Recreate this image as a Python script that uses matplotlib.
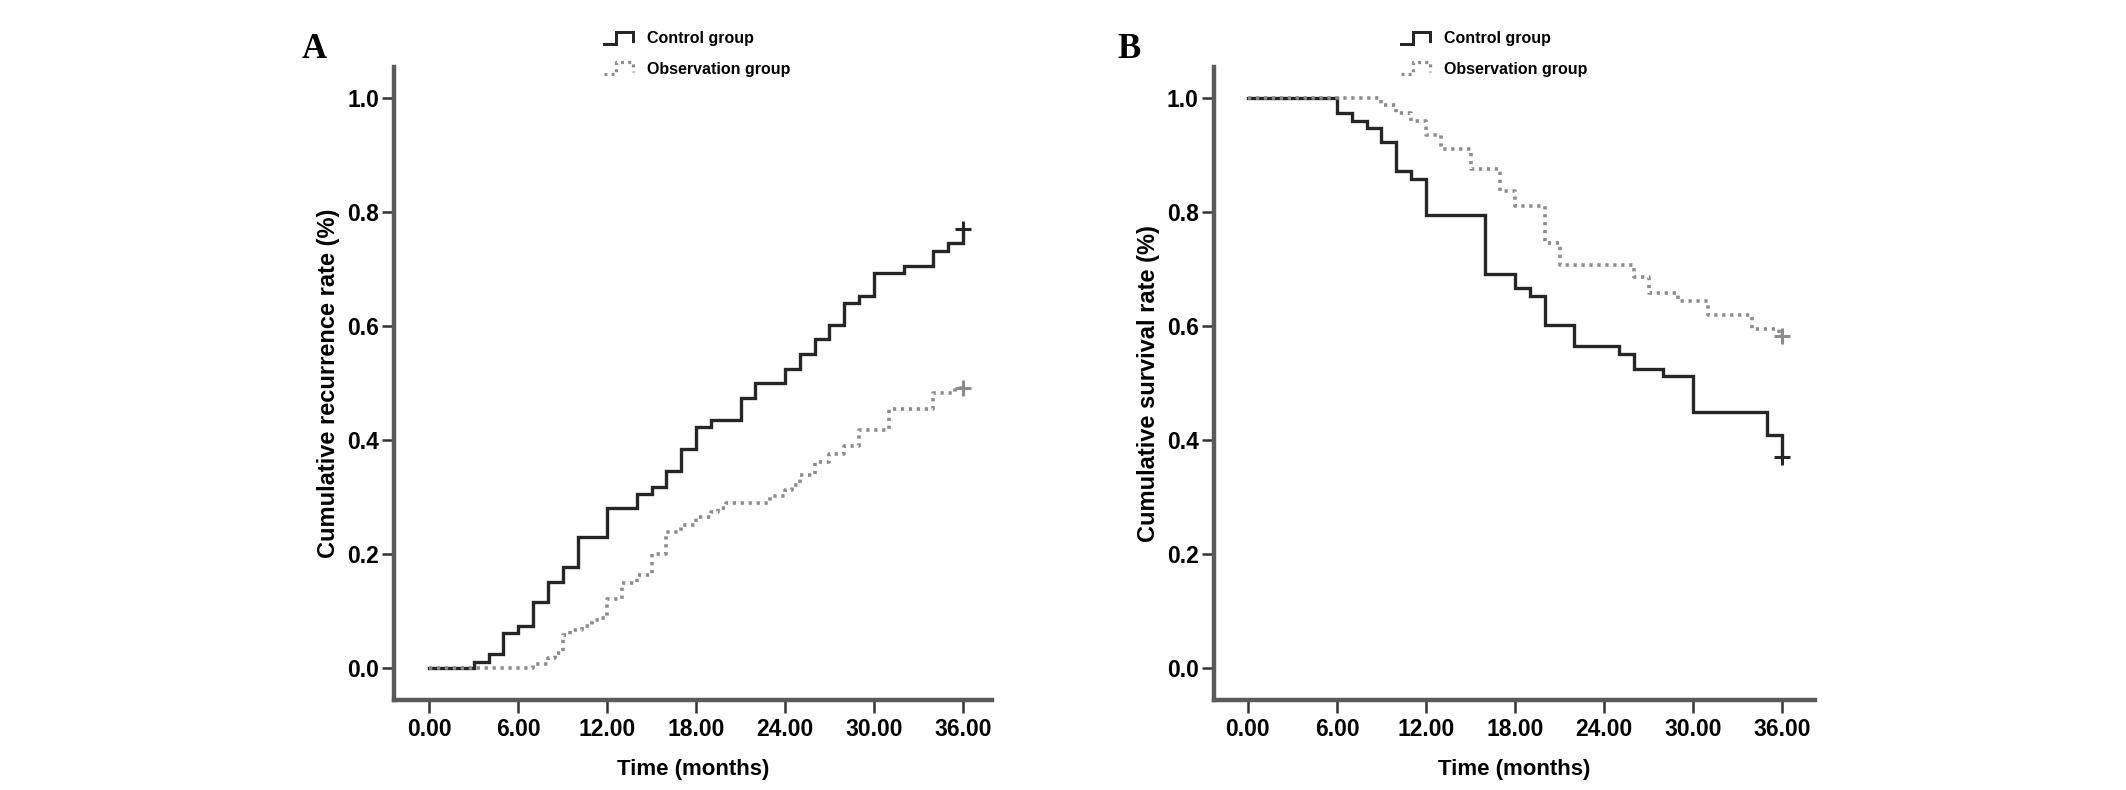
import numpy as np
import matplotlib
matplotlib.use("Agg")
import matplotlib.pyplot as plt
from matplotlib.lines import Line2D
from matplotlib.legend_handler import HandlerBase
from matplotlib.ticker import FormatStrFormatter

# ----- data (months, cumulative rate) -----

ctrl_a_t = [0, 3, 4, 5, 6, 7, 8, 9, 10, 12, 14, 15, 16, 17, 18, 19, 21, 22, 24, 25, 26, 27, 28, 29, 30, 32, 34, 35, 36]
ctrl_a_v = [0, 0.011, 0.025, 0.061, 0.074, 0.115, 0.151, 0.177, 0.229, 0.281, 0.305, 0.318, 0.346, 0.384, 0.422,
            0.435, 0.473, 0.500, 0.524, 0.551, 0.577, 0.602, 0.640, 0.653, 0.692, 0.705, 0.732, 0.745, 0.770]

obs_a_t = [0, 7, 8, 8.5, 9, 9.5, 10.3, 11, 11.5, 12, 13, 14, 15, 16, 17, 18, 19, 19.5, 20, 23, 24, 24.5, 25,
           26, 27, 28, 29, 31, 34, 35.5]
obs_a_v = [0, 0.008, 0.017, 0.026, 0.058, 0.067, 0.074, 0.084, 0.087, 0.122, 0.150, 0.163, 0.200, 0.239, 0.251,
           0.265, 0.274, 0.280, 0.290, 0.302, 0.312, 0.321, 0.338, 0.362, 0.375, 0.389, 0.417, 0.454, 0.482, 0.491]

ctrl_b_t = [0, 6, 7, 8, 9, 10, 11, 12, 16, 18, 19, 20, 22, 25, 26, 28, 30, 35, 36]
ctrl_b_v = [1.0, 0.973, 0.960, 0.947, 0.922, 0.872, 0.858, 0.794, 0.691, 0.666, 0.653, 0.602, 0.564, 0.551,
            0.525, 0.512, 0.449, 0.409, 0.371]

obs_b_t = [0, 9, 10, 11, 12, 13, 15, 17, 18, 20, 21, 26, 27, 29, 31, 34, 35.8]
obs_b_v = [1.0, 0.987, 0.973, 0.960, 0.935, 0.910, 0.875, 0.836, 0.810, 0.745, 0.707, 0.686, 0.657, 0.644,
           0.619, 0.595, 0.583]

censor_time = 36
group_labels = ["Control group", "Observation group"]
x_ticks = [0, 6, 12, 18, 24, 30, 36]
y_ticks = [0.0, 0.2, 0.4, 0.6, 0.8, 1.0]

# ----- styles -----

SANS = "Liberation Sans"
SERIF = "Liberation Serif"
CTRL_STYLE = dict(color="#262626", lw=2.4, linestyle="-")
OBS_STYLE = dict(color="#8c8c8c", lw=2.6, linestyle=(0, (0.9, 1.3)))
SPINE_COLOR = "#5a5a5a"


class StepHandler(HandlerBase):
    # little step icon like the SPSS legend
    def create_artists(self, legend, orig_handle, xdescent, ydescent, width, height, fontsize, trans):
        xs = np.array([0, 0.42, 0.42, 1.0, 1.0]) * width - xdescent
        ys = np.array([0.1, 0.1, 0.95, 0.95, 0.3]) * height - ydescent
        line = Line2D(xs, ys)
        line.update_from(orig_handle)
        line.set_marker("")
        line.set_linewidth(orig_handle.get_linewidth() * 0.9)
        line.set_clip_on(False)
        line.set_clip_box(None)
        line.set_transform(trans)
        return [line]


def draw_curve(ax, t, v, style):
    t_full = np.append(t, censor_time)
    v_full = np.append(v, v[-1])
    line, = ax.step(t_full, v_full, where="post", solid_joinstyle="miter", **style)
    ax.plot([censor_time], [v[-1]], marker="+", ms=11, mew=2.2, color=style["color"], linestyle="none")
    return line


def style_axes(ax, xmin, xmax, ylabel):
    ax.set_xlim(xmin, xmax)
    ax.set_ylim(-0.056, 1.054)
    for side in ("top", "right"):
        ax.spines[side].set_visible(False)
    for side in ("left", "bottom"):
        ax.spines[side].set_color(SPINE_COLOR)
        ax.spines[side].set_linewidth(3.2)
    ax.set_xticks(x_ticks)
    ax.set_yticks(y_ticks)
    ax.xaxis.set_major_formatter(FormatStrFormatter("%.2f"))
    ax.yaxis.set_major_formatter(FormatStrFormatter("%.1f"))
    ax.tick_params(axis="both", direction="out", length=9, width=1.8, color="#333333", labelsize=16.5)
    ax.tick_params(axis="x", pad=4)
    ax.tick_params(axis="y", pad=2)
    for lab in ax.get_xticklabels() + ax.get_yticklabels():
        lab.set_fontfamily(SANS)
        lab.set_fontweight("bold")
    ax.set_xlabel("Time (months)", fontsize=16, fontweight="bold", family=SANS, labelpad=13)
    ax.set_ylabel(ylabel, fontsize=17, fontweight="bold", family=SANS, labelpad=5)


def add_legend(fig, handles, x_fig):
    fig.legend(handles, group_labels, loc="upper left", bbox_to_anchor=(x_fig, 0.961),
               frameon=False, handler_map={Line2D: StepHandler()},
               prop={"family": SANS, "weight": "bold", "size": 11.5},
               handlelength=1.8, handleheight=1.0, handletextpad=0.9, labelspacing=0.95,
               borderpad=0, borderaxespad=0)


fig = plt.figure(figsize=(21.26, 7.9), dpi=100)
ax_a = fig.add_axes([0.1854, 0.1139, 0.2814, 0.8013])
ax_b = fig.add_axes([0.5710, 0.1139, 0.2826, 0.8013])

ha1 = draw_curve(ax_a, ctrl_a_t, ctrl_a_v, CTRL_STYLE)
ha2 = draw_curve(ax_a, obs_a_t, obs_a_v, OBS_STYLE)
style_axes(ax_a, -2.38, 38.0, "Cumulative recurrence rate (%)")

hb1 = draw_curve(ax_b, ctrl_b_t, ctrl_b_v, CTRL_STYLE)
hb2 = draw_curve(ax_b, obs_b_t, obs_b_v, OBS_STYLE)
style_axes(ax_b, -2.29, 38.2, "Cumulative survival rate (%)")

add_legend(fig, [ha1, ha2], 0.284)
add_legend(fig, [hb1, hb2], 0.659)

fig.text(0.148, 0.937, "A", family=SERIF, fontweight="bold", fontsize=25, ha="center", va="center")
fig.text(0.531, 0.937, "B", family=SERIF, fontweight="bold", fontsize=25, ha="center", va="center")

fig.savefig("out.png", dpi=100, facecolor="white")
